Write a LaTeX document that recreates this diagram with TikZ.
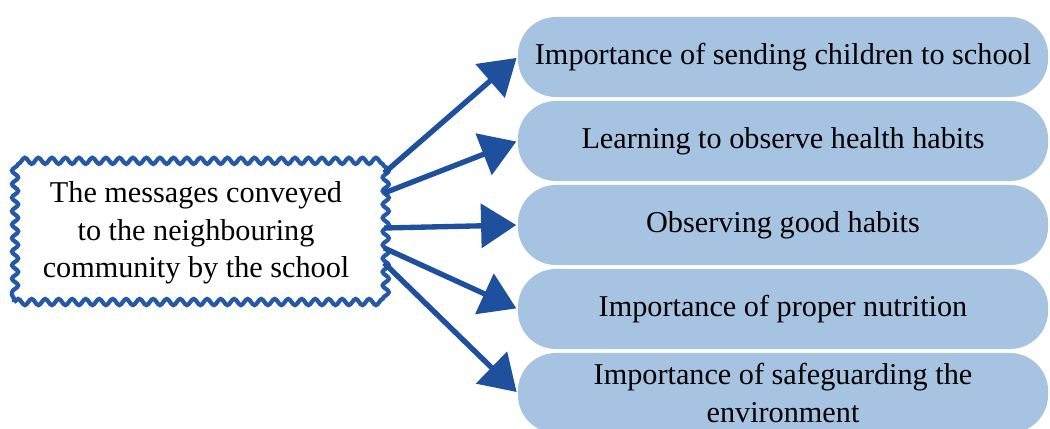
\documentclass[tikz,border=0pt]{standalone}
\usepackage{fontspec}
\setmainfont{Liberation Serif}
\usetikzlibrary{arrows.meta, decorations.pathmorphing, positioning}
\definecolor{boxblue}{RGB}{166,196,226}
\definecolor{arrblue}{RGB}{30,80,158}
\definecolor{wavyblue}{RGB}{38,88,168}

\begin{document}
\begin{tikzpicture}[x=0.025cm,y=-0.025cm,
  font=\fontsize{21.5}{26.5}\selectfont,
  msgbox/.style={draw=wavyblue, line width=3pt, fill=white, align=center,
    minimum width=9.1cm, minimum height=3.45cm, inner sep=0pt,
    decorate, decoration={snake, segment length=9.6pt, amplitude=2.2pt}},
  itembox/.style={fill=boxblue, rounded corners=0.95cm, align=center,
    minimum width=13.25cm, minimum height=2cm, inner sep=0pt},
  arr/.style={arrblue, line width=3.8pt, -{Triangle[length=25pt,width=31pt]}, shorten >=1pt}]
\useasboundingbox (0,0) rectangle (1050,428);
\node[msgbox] (src) at (196,233) {The messages conveyed\\to the neighbouring\\community by the school};
\foreach \i/\txt in {1/Importance of sending children to school,
                     2/Learning to observe health habits,
                     3/Observing good habits,
                     4/Importance of proper nutrition,
                     5/{Importance of safeguarding the\\environment}} {
  \node[itembox] (b\i) at (783,{57+84*(\i-1)}) {\txt};
}
\foreach \i/\dy in {1/1.5, 2/1, 3/0.125, 4/-0.375, 5/-0.75} {
  \draw[arr] ([xshift=0.1cm,yshift=\dy cm]src.east) -- (b\i.west);
}
\end{tikzpicture}
\end{document}
